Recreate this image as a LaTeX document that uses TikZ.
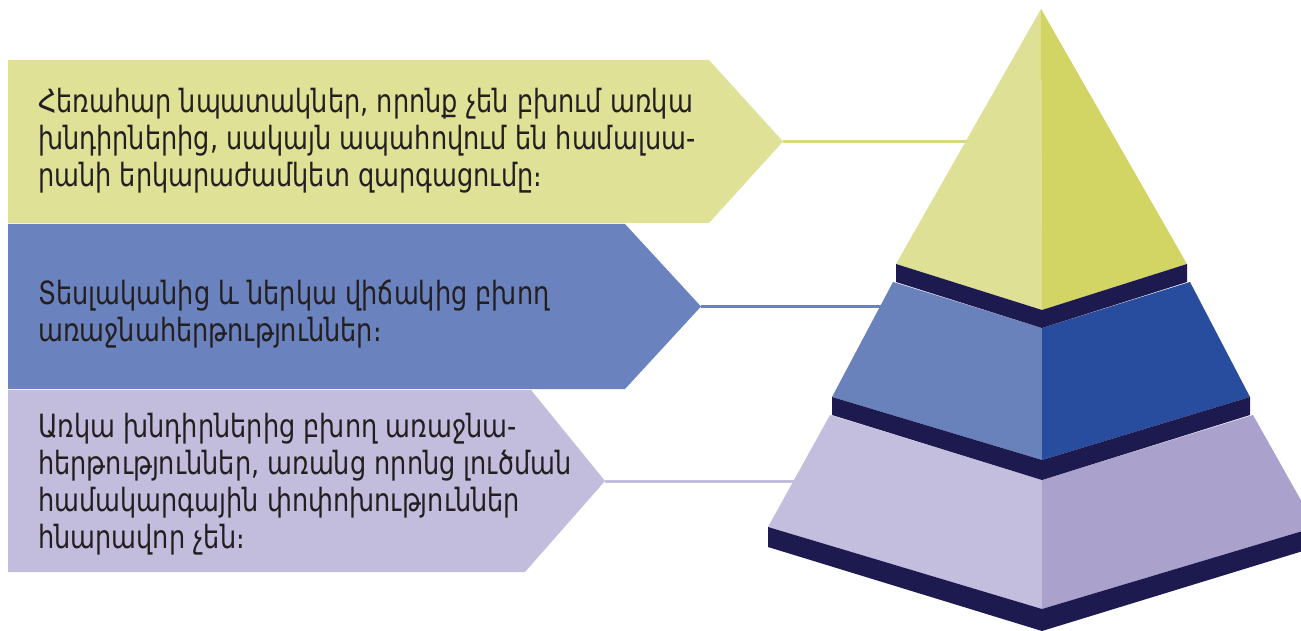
\documentclass[tikz,border=0pt]{standalone}
\usepackage{fontspec}
\newfontfamily\armfont[FakeStretch=0.8]{DejaVu Sans}
\definecolor{yelbox}{HTML}{DEE196}
\definecolor{yelL}{HTML}{DDE095}
\definecolor{yelR}{HTML}{D2D463}
\definecolor{yelline}{HTML}{D8DA80}
\definecolor{blubox}{HTML}{6A82BD}
\definecolor{bluL}{HTML}{6A82BC}
\definecolor{bluR}{HTML}{294D9E}
\definecolor{lavbox}{HTML}{C3BDDD}
\definecolor{lavL}{HTML}{C4BEDE}
\definecolor{lavR}{HTML}{AAA2CC}
\definecolor{band}{HTML}{1C1A4F}
\definecolor{txt}{HTML}{231F20}
\tikzset{
  label text/.style={font=\armfont\fontsize{32}{37}\selectfont, text=txt, align=left, anchor=west, inner sep=0pt},
  conn/.style={line width=3pt},
}
\begin{document}
\begin{tikzpicture}[x=1pt,y=-1pt]
\useasboundingbox (0,0) rectangle (1301,631);
\fill[white] (0,0) rectangle (1301,631);
% coordinates for connectors
\coordinate (ytip) at (783,141.5);
\coordinate (yend) at (975,141.5);
\coordinate (btip) at (701,306.5);
\coordinate (bend) at (890,306.5);
\coordinate (ltip) at (605,481);
\coordinate (lend) at (805,481);
% connectors
\draw[conn, yelline] (ytip) -- (yend);
\draw[conn, blubox] (btip) -- (bend);
\draw[conn, lavbox] (ltip) -- (lend);
% arrow boxes
\fill[yelbox] (8,60) -- (709,60) -- (ytip) -- (709,223) -- (8,223) -- cycle;
\fill[blubox] (8,224) -- (625,224) -- (btip) -- (625,389) -- (8,389) -- cycle;
\fill[lavbox] (8,390) -- (531,390) -- (ltip) -- (525,572) -- (8,572) -- cycle;
% texts
\node[label text] (t1) at (38,141) {Հեռահար նպատակներ, որոնք չեն բխում առկա\\խնդիրներից, սակայն ապահովում են համալսա-\\րանի երկարաժամկետ զարգացումը։};
\node[label text] (t2) at (38,314) {Տեսլականից և ներկա վիճակից բխող\\առաջնահերթություններ։};
\node[label text] (t3) at (38,484) {Առկա խնդիրներից բխող առաջնա-\\հերթություններ, առանց որոնց լուծման\\համակարգային փոփոխություններ\\հնարավոր չեն։};
% pyramid
\begin{scope}
\clip (0,0) rectangle (1301,631);
\fill[yelL] (1041,9) -- (896,264) -- (1042,310) -- cycle;
\fill[yelR] (1041,9) -- (1042,310) -- (1187,264) -- cycle;
\fill[bluL] (893,282) -- (1042,328) -- (1042,460) -- (832,397) -- cycle;
\fill[bluR] (1042,328) -- (1190,282) -- (1250,397) -- (1042,460) -- cycle;
\fill[band] (896,264) -- (1042,310) -- (1187,264) -- (1187,282) -- (1042,328) -- (896,282) -- cycle;
\fill[lavL] (830,415) -- (1042,480) -- (1042,609) -- (768,527) -- cycle;
\fill[lavR] (1042,480) -- (1253,415) -- (1316,527) -- (1042,609) -- cycle;
\fill[band] (832,397) -- (1042,460) -- (1250,397) -- (1250,415) -- (1042,480) -- (832,415) -- cycle;
\fill[band] (768,527) -- (1042,609) -- (1316,527) -- (1316,547) -- (1042,631) -- (768,547) -- cycle;
\end{scope}
\end{tikzpicture}
\end{document}
